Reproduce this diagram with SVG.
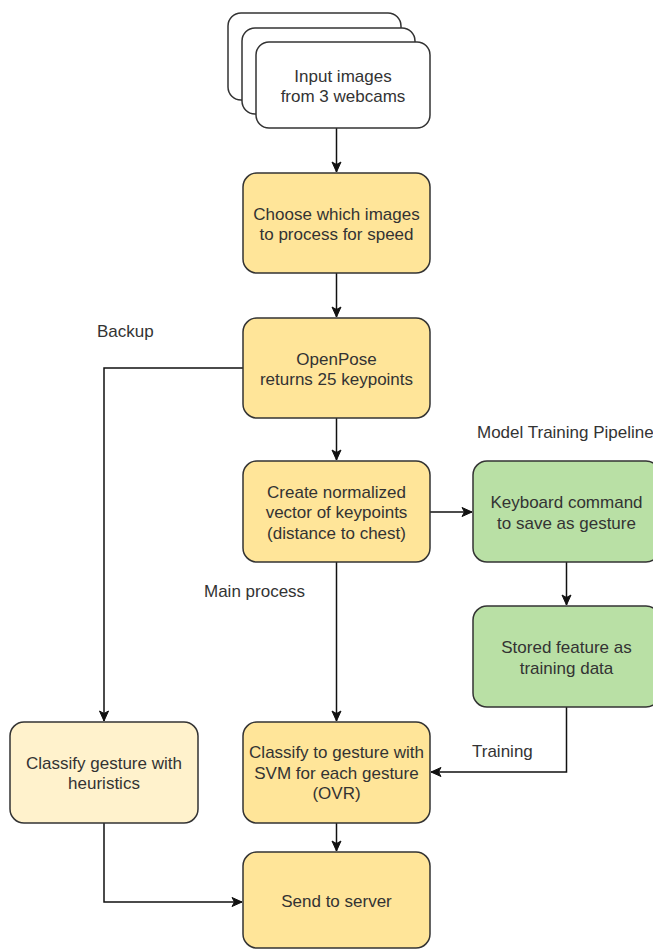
<svg xmlns="http://www.w3.org/2000/svg" width="653" height="950" viewBox="0 0 653 950">
<defs>
<style>
.box{stroke:#333;stroke-width:1.5}
.doc{fill:#fff}
.y{fill:#FFE599}
.l{fill:#FFF2CC}
.g{fill:#B9E0A5}
text{font-family:"Liberation Sans",Arial,sans-serif;font-size:17px;fill:#333}
.c{text-anchor:middle}
.edge{fill:none;stroke:#111;stroke-width:1.5;marker-end:url(#arr)}
</style>
<marker id="arr" viewBox="0 0 12 12" refX="11" refY="6" markerWidth="12" markerHeight="12" markerUnits="userSpaceOnUse" orient="auto">
<path d="M1,1.5 L11,6 L1,10.5 L3.5,6 Z" fill="#111" stroke="#111" stroke-width="1"/>
</marker>
</defs>
<rect width="653" height="950" fill="#fff"/>
<g id="connectors">
<path class="edge" d="M336.5,128 V172"/>
<path class="edge" d="M336.5,273 V317"/>
<path class="edge" d="M336.5,418 V460"/>
<path class="edge" d="M336.5,562 V721"/>
<path class="edge" d="M336.5,823 V851"/>
<path class="edge" d="M243,368 H104 V721"/>
<path class="edge" d="M430,512 H472"/>
<path class="edge" d="M566.5,562 V605"/>
<path class="edge" d="M566.5,707 V772 H431"/>
<path class="edge" d="M104,823 V902 H242"/>
</g>
<g id="input">
<rect class="box doc" x="228" y="13" width="173" height="87" rx="13"/>
<rect class="box doc" x="242" y="28" width="173" height="86" rx="13"/>
<rect class="box doc" x="256" y="42" width="174" height="86" rx="13"/>
<text class="c" x="343" y="82">Input images</text>
<text class="c" x="343" y="102">from 3 webcams</text>
</g>
<g id="choose">
<rect class="box y" x="243" y="173" width="187" height="100" rx="14"/>
<text class="c" x="336.5" y="219.5">Choose which images</text>
<text class="c" x="336.5" y="240">to process for speed</text>
</g>
<g id="openpose">
<rect class="box y" x="243" y="318" width="187" height="100" rx="14"/>
<text class="c" x="336.5" y="364.5">OpenPose</text>
<text class="c" x="336.5" y="385">returns 25 keypoints</text>
</g>
<g id="create">
<rect class="box y" x="243" y="461" width="187" height="101" rx="14"/>
<text class="c" x="336.5" y="497.5">Create normalized</text>
<text class="c" x="336.5" y="518">vector of keypoints</text>
<text class="c" x="336.5" y="538.5">(distance to chest)</text>
</g>
<g id="keyboard">
<rect class="box g" x="473" y="461" width="187" height="101" rx="14"/>
<text class="c" x="566.5" y="508">Keyboard command</text>
<text class="c" x="566.5" y="528.5">to save as gesture</text>
</g>
<g id="stored">
<rect class="box g" x="473" y="606" width="187" height="101" rx="14"/>
<text class="c" x="566.5" y="653">Stored feature as</text>
<text class="c" x="566.5" y="673.5">training data</text>
</g>
<g id="heuristics">
<rect class="box l" x="10" y="722" width="188" height="101" rx="14"/>
<text class="c" x="104" y="768.5">Classify gesture with</text>
<text class="c" x="104" y="789">heuristics</text>
</g>
<g id="svm">
<rect class="box y" x="243" y="722" width="187" height="101" rx="14"/>
<text class="c" x="336.5" y="758">Classify to gesture with</text>
<text class="c" x="336.5" y="778.5">SVM for each gesture</text>
<text class="c" x="336.5" y="799">(OVR)</text>
</g>
<g id="send">
<rect class="box y" x="243" y="852" width="187" height="96" rx="14"/>
<text class="c" x="336.5" y="907">Send to server</text>
</g>
<g id="labels">
<text x="97" y="337">Backup</text>
<text x="204" y="597">Main process</text>
<text x="477" y="438">Model Training Pipeline</text>
<text x="472" y="757">Training</text>
</g>
</svg>
